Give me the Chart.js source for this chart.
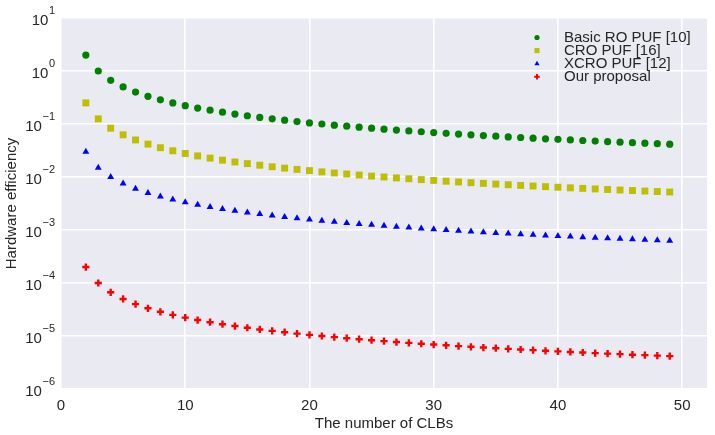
<!DOCTYPE html>
<html>
<head>
<meta charset="utf-8">
<script src="https://cdn.jsdelivr.net/npm/chart.js@4/dist/chart.umd.min.js"></script>
<style>
html,body{margin:0;padding:0;background:#fff;}
#wrap{width:715px;height:435px;position:relative;}
</style>
</head>
<body>
<div id="wrap"><canvas id="c" width="715" height="435"></canvas></div>
<script>
// ---- data ----
const clbs = [2,3,4,5,6,7,8,9,10,11,12,13,14,15,16,17,18,19,20,21,22,23,24,25,26,27,28,29,30,31,32,33,34,35,36,37,38,39,40,41,42,43,44,45,46,47,48,49];
const basicRO = [2.0,1.0,0.667,0.5,0.4,0.333,0.286,0.25,0.222,0.2,0.182,0.167,0.154,0.143,0.133,0.125,0.118,0.111,0.105,0.1,0.0952,0.0909,0.087,0.0833,0.08,0.0769,0.0741,0.0714,0.069,0.0667,0.0645,0.0625,0.0606,0.0588,0.0571,0.0556,0.0541,0.0526,0.0513,0.05,0.0488,0.0476,0.0465,0.0455,0.0444,0.0435,0.0426,0.0417];
const croPUF = [0.25,0.125,0.0833,0.0625,0.05,0.0417,0.0357,0.03125,0.0278,0.025,0.0227,0.0208,0.0192,0.0179,0.0167,0.0156,0.0147,0.0139,0.0132,0.0125,0.0119,0.0114,0.0109,0.0104,0.01,0.00962,0.00926,0.00893,0.00862,0.00833,0.00806,0.00781,0.00758,0.00735,0.00714,0.00694,0.00676,0.00658,0.00641,0.00625,0.0061,0.00595,0.00581,0.00568,0.00556,0.00543,0.00532,0.00521];
const xcroPUF = [0.03,0.015,0.01,0.0075,0.006,0.005,0.00429,0.00375,0.00333,0.003,0.00273,0.0025,0.00231,0.00214,0.002,0.00188,0.00176,0.00167,0.00158,0.0015,0.00143,0.00136,0.0013,0.00125,0.0012,0.00115,0.00111,0.00107,0.00103,0.001,0.000968,0.000938,0.000909,0.000882,0.000857,0.000833,0.000811,0.000789,0.000769,0.00075,0.000732,0.000714,0.000698,0.000682,0.000667,0.000652,0.000638,0.000625];
const ourProposal = [2e-4,1e-4,6.67e-5,5e-5,4e-5,3.33e-5,2.86e-5,2.5e-5,2.22e-5,2e-5,1.82e-5,1.67e-5,1.54e-5,1.43e-5,1.33e-5,1.25e-5,1.18e-5,1.11e-5,1.05e-5,1e-5,9.52e-6,9.09e-6,8.7e-6,8.33e-6,8e-6,7.69e-6,7.41e-6,7.14e-6,6.9e-6,6.67e-6,6.45e-6,6.25e-6,6.06e-6,5.88e-6,5.71e-6,5.56e-6,5.41e-6,5.26e-6,5.13e-6,5e-6,4.88e-6,4.76e-6,4.65e-6,4.55e-6,4.44e-6,4.35e-6,4.26e-6,4.17e-6];
const seriesNames = ['Basic RO PUF [10]','CRO PUF [16]','XCRO PUF [12]','Our proposal'];
const xTicks = [0,10,20,30,40,50];
const yTicks = [1e-6,1e-5,1e-4,1e-3,1e-2,1e-1,1,10];
const xTitle = 'The number of CLBs';
const yTitle = 'Hardware efficiency';

const FONT = '"Liberation Sans", Arial, sans-serif';
const TXT = '#262626';

const pts = arr => clbs.map((x,i)=>({x:x, y:arr[i]}));

const styles = [
  {color:'#008000', pointStyle:'circle', r:3.6, bw:0, lr:2.6},
  {color:'#BFBF00', pointStyle:'rect', r:4.9, bw:0, lr:3.6},
  {color:'#0000FF', pointStyle:'triangle', r:4.0, bw:0, lr:3.0},
  {color:'#FF0000', pointStyle:'cross', r:3.6, bw:2.4, lr:2.8}
];
const seriesData = [basicRO, croPUF, xcroPUF, ourProposal];

const datasets = seriesData.map((arr,i)=>({
  label: seriesNames[i],
  data: pts(arr),
  showLine: false,
  pointStyle: styles[i].pointStyle,
  pointRadius: styles[i].r,
  pointHoverRadius: styles[i].r,
  pointBackgroundColor: styles[i].color,
  pointBorderColor: styles[i].color,
  pointBorderWidth: styles[i].bw,
  backgroundColor: styles[i].color,
  borderColor: styles[i].color
}));

const bgPlugin = {
  id:'bg',
  beforeDraw(chart){
    const {ctx, chartArea:a} = chart;
    ctx.save();
    ctx.fillStyle = '#fff';
    ctx.fillRect(0,0,chart.width,chart.height);
    ctx.fillStyle = '#EAEAF2';
    ctx.fillRect(a.left, a.top, a.right-a.left, a.bottom-a.top);
    ctx.restore();
  }
};

const yLabelPlugin = {
  id:'ylabels',
  afterDraw(chart){
    const ctx = chart.ctx, ys = chart.scales.y;
    ctx.save();
    ctx.fillStyle = TXT;
    ctx.textBaseline = 'middle';
    const rightX = 55;
    ys.ticks.forEach(t=>{
      const v = t.value;
      const e = Math.round(Math.log10(v));
      const ex = e < 0 ? '\u2212' + Math.abs(e) : String(e);
      const y = ys.getPixelForValue(v);
      ctx.font = '11px ' + FONT;
      const ew = ctx.measureText(ex).width;
      ctx.textAlign = 'left';
      ctx.fillText(ex, rightX - ew, y - 7.5);
      ctx.font = '15px ' + FONT;
      ctx.textAlign = 'right';
      ctx.fillText('10', rightX - ew - 0.5, y + 3);
    });
    ctx.restore();
  }
};

const legendPlugin = {
  id:'customLegend',
  afterDraw(chart){
    const ctx = chart.ctx;
    ctx.save();
    const mx = 537, tx = 564, y0 = 37.5, dy = 13.1;
    seriesNames.forEach((name,i)=>{
      const y = y0 + i*dy;
      const s = styles[i];
      ctx.fillStyle = s.color;
      ctx.strokeStyle = s.color;
      ctx.lineWidth = s.pointStyle === 'cross' ? 2 : 0;
      Chart.helpers.drawPoint(ctx, {pointStyle:s.pointStyle, radius:s.lr, rotation:0, borderWidth: s.pointStyle==='cross'?2:0}, mx, y);
      ctx.fillStyle = TXT;
      ctx.font = '15px ' + FONT;
      ctx.textAlign = 'left';
      ctx.textBaseline = 'middle';
      ctx.fillText(name, tx, y);
    });
    ctx.restore();
  }
};

new Chart(document.getElementById('c'), {
  type:'scatter',
  data:{datasets},
  options:{
    responsive:false,
    animation:false,
    devicePixelRatio:1,
    layout:{padding:{top:18,right:8,left:0,bottom:0}},
    plugins:{legend:{display:false}, tooltip:{enabled:false}},
    scales:{
      x:{
        type:'linear', min:0, max:52,
        afterBuildTicks(s){ s.ticks = xTicks.map(v=>({value:v})); },
        afterFit(s){ s.height = 46; },
        border:{display:false},
        grid:{color:'#ffffff', lineWidth:1.6, drawTicks:false},
        ticks:{color:TXT, font:{family:FONT, size:15}, padding:8, maxRotation:0},
        title:{display:true, text:xTitle, color:TXT, font:{family:FONT, size:15}, padding:{top:0,bottom:2}}
      },
      y:{
        type:'logarithmic', min:1e-6, max:10,
        afterBuildTicks(s){ s.ticks = yTicks.map(v=>({value:v})); },
        afterFit(s){ s.width = 61; },
        border:{display:false},
        grid:{color:'#ffffff', lineWidth:1.6, drawTicks:false},
        ticks:{display:true, color:'rgba(0,0,0,0)', callback:()=>'' , font:{family:FONT,size:15}},
        title:{display:true, text:yTitle, color:TXT, font:{family:FONT, size:15}, padding:{top:3,bottom:0}}
      }
    }
  },
  plugins:[bgPlugin, yLabelPlugin, legendPlugin]
});
</script>
</body>
</html>
